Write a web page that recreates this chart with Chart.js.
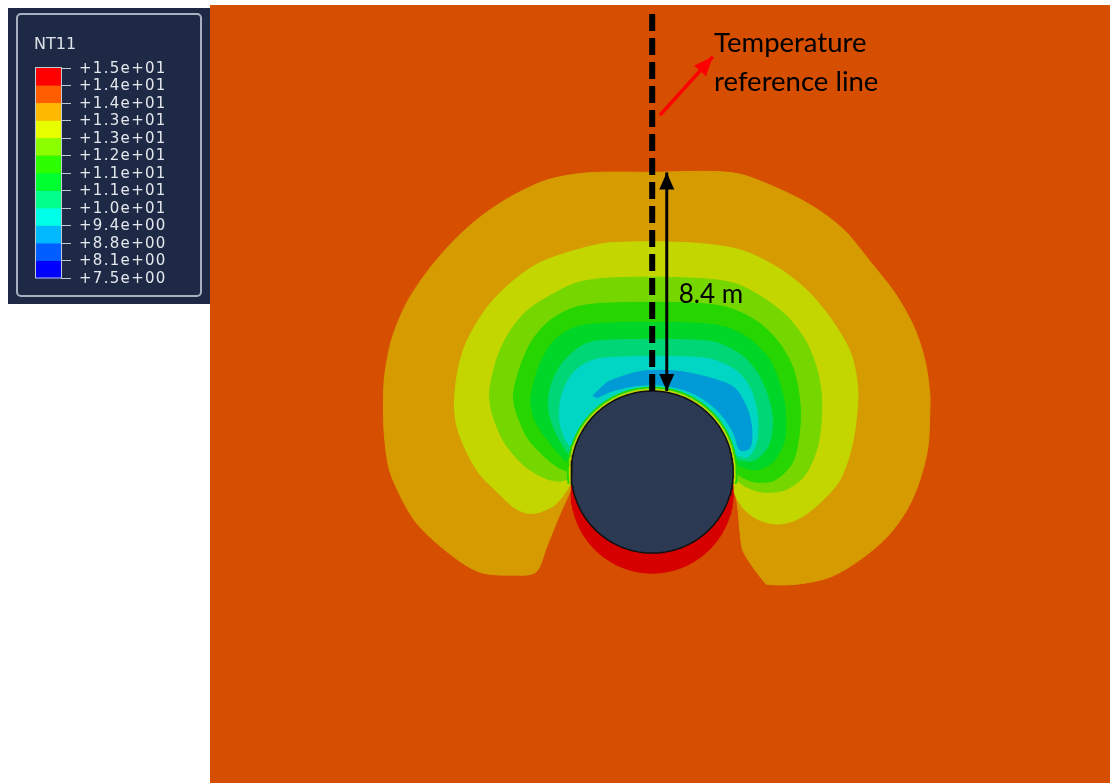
<!DOCTYPE html>
<html>
<head>
<meta charset="utf-8">
<title>NT11 temperature field around the tunnel</title>
<script src="https://cdn.jsdelivr.net/npm/chart.js@4.4.1/dist/chart.umd.min.js"></script>
<style>
  html, body { margin: 0; padding: 0; background: #ffffff; }
  canvas { display: block; }
</style>
</head>
<body>
<canvas id="field" width="1110" height="783"></canvas>
<script>
// ---- NT11 contour levels and legend (bottom to top) ----
const levels = [7.5, 8.125, 8.75, 9.375, 10.0, 10.625, 11.25, 11.875, 12.5, 13.125, 13.75, 14.375, 15.0];
const levelLabels = ['+7.5e+00', '+8.1e+00', '+8.8e+00', '+9.4e+00', '+1.0e+01', '+1.1e+01',
                     '+1.1e+01', '+1.2e+01', '+1.3e+01', '+1.3e+01', '+1.4e+01', '+1.4e+01', '+1.5e+01'];
const palette = ['#0000FF', '#005DFF', '#00B9FF', '#00FFE8', '#00FF8B', '#00FF2E',
                 '#2EFF00', '#8BFF00', '#E8FF00', '#FFB900', '#FF5D00', '#FF0000'];

// ---- Contour band outlines, metres from the tunnel centre [x, y] ----
// 13.125 - 13.75
const band13_1 = [[-3.06,-0.38],[-3.17,-0.77],[-3.56,-1.65],[-4.06,-2.88],[-4.48,-3.85],[-5.48,-3.96],[-6.52,-3.88],
  [-7.29,-3.50],[-8.29,-2.73],[-9.06,-1.96],[-9.60,-1.08],[-10.10,0.08],[-10.29,1.35],[-10.33,2.38],[-10.29,3.65],
  [-10.02,5.08],[-9.44,6.50],[-8.60,7.77],[-7.60,8.92],[-6.60,9.81],[-5.44,10.58],[-4.02,11.23],[-2.48,11.50],
  [-0.10,11.52],[3.10,11.50],[4.79,10.92],[6.21,10.19],[7.37,9.31],[8.33,8.15],[9.33,6.88],[10.06,5.58],[10.48,4.31],
  [10.67,3.04],[10.67,2.27],[10.60,0.96],[10.29,-0.31],[9.79,-1.46],[9.02,-2.50],[7.98,-3.38],[6.83,-4.04],
  [5.56,-4.31],[4.40,-4.31],[4.25,-4.15],[3.87,-3.65],[3.48,-3.00],[3.37,-2.23],[3.29,-1.35],[3.17,-0.69],[3.06,-0.38]];
// 12.5 - 13.125
const band12_5 = [[-3.06,-0.31],[-3.33,-0.77],[-3.75,-1.27],[-4.33,-1.54],[-4.79,-1.58],[-5.29,-1.38],[-5.87,-0.85],
  [-6.63,-0.08],[-7.17,0.85],[-7.52,1.81],[-7.60,2.77],[-7.44,4.04],[-7.10,5.08],[-6.33,6.35],[-5.44,7.27],
  [-4.33,8.04],[-2.90,8.54],[-1.63,8.81],[1.44,8.81],[3.37,8.54],[4.79,7.88],[5.94,7.00],[6.90,5.85],[7.63,4.58],
  [7.90,3.27],[7.87,2.27],[7.67,0.96],[7.21,-0.31],[6.44,-1.19],[5.67,-1.77],[4.90,-2.00],[4.13,-1.85],
  [3.56,-1.46],[3.25,-1.00],[3.06,-0.50]];
// 11.875 - 12.5
const band11_9 = [[-3.10,-0.23],[-3.56,-0.35],[-4.13,-0.23],[-4.90,0.23],[-5.67,1.12],[-6.13,2.19],[-6.25,3.04],
  [-6.02,4.19],[-5.60,5.19],[-4.90,6.12],[-4.02,6.73],[-2.90,7.27],[-1.63,7.46],[1.44,7.46],[3.10,7.27],
  [4.21,6.73],[5.21,5.96],[5.94,4.96],[6.37,3.81],[6.52,2.58],[6.37,1.04],[5.87,-0.12],[5.10,-0.69],
  [4.21,-0.77],[3.56,-0.54],[3.13,-0.23]];
// 11.25 - 11.875
const band11_3 = [[-3.10,0.00],[-3.56,0.15],[-4.13,0.58],[-4.79,1.31],[-5.25,2.38],[-5.33,3.04],[-5.02,4.19],
  [-4.60,5.08],[-3.90,5.85],[-2.90,6.35],[-1.56,6.50],[1.44,6.50],[2.79,6.35],[3.94,5.85],[4.79,5.08],
  [5.40,4.04],[5.67,2.77],[5.67,1.62],[5.40,0.38],[4.71,-0.31],[3.94,-0.38],[3.44,-0.19],[3.13,0.04]];
// 10.625 - 11.25
const band10_6 = [[-3.10,0.23],[-3.44,0.54],[-4.02,1.23],[-4.52,2.00],[-4.67,2.77],[-4.52,3.54],[-4.25,4.31],
  [-3.75,5.08],[-2.90,5.58],[-1.56,5.73],[1.44,5.73],[2.79,5.58],[3.79,5.08],[4.52,4.31],[4.94,3.27],
  [5.13,2.27],[5.06,1.12],[4.60,0.35],[3.94,0.08],[3.37,0.23],[3.13,0.38]];
// 10.0 - 10.625
const band10_0 = [[-3.06,0.46],[-3.37,0.92],[-3.75,1.62],[-3.98,2.38],[-3.94,3.15],[-3.63,3.92],[-3.17,4.50],
  [-2.48,4.96],[-1.44,5.08],[1.44,5.08],[2.52,4.96],[3.52,4.42],[4.13,3.65],[4.52,2.65],[4.63,1.81],
  [4.44,0.96],[3.94,0.46],[3.37,0.46],[3.13,0.65]];
// 9.375 - 10.0
const band9_4 = [[-2.98,0.77],[-3.33,1.23],[-3.56,2.00],[-3.52,2.77],[-3.33,3.35],[-2.94,3.92],[-2.25,4.31],
  [-1.25,4.42],[1.44,4.42],[2.37,4.31],[3.29,3.85],[3.83,3.08],[4.06,2.00],[3.98,1.04],[3.67,0.58],[3.25,0.65]];
// 8.75 - 9.375
const band8_8 = [[-2.29,2.92],[-2.02,3.19],[-1.63,3.50],[-0.37,3.88],[0.94,3.88],[2.21,3.62],[3.17,3.23],
  [3.67,2.38],[3.83,1.62],[3.75,0.92],[3.37,0.85],[3.13,1.50],[2.67,2.19],[2.02,2.77],[1.25,3.15],
  [0.29,3.35],[-0.67,3.31],[-1.52,3.12],[-2.13,2.85]];

// Band lower bounds, drawn from the outermost band inwards
const bandLevels = [13.125, 12.5, 11.875, 11.25, 10.625, 10.0, 9.375, 8.75];
const bandOutlines = [band13_1, band12_5, band11_9, band11_3, band10_6, band10_0, band9_4, band8_8];
const fieldLevel = 13.75;          // far-field band
const floorLevel = 14.375;         // warm zone under the invert

// ---- Tunnel and reference line (metres) ----
const tunnelRadius = 3.115;
const tunnelCentre = [0, 0];
const warmZoneCentre = [0, -0.77];
const crownDistance = 8.4;          // crown to edge of the 13.125 band
const referenceLineTop = 17.6;

// ---- Layout of the drawing ----
const X_MIN = -17.0, X_MAX = 17.6, Y_MIN = -11.95, Y_MAX = 17.95;
const SHADE = 0.84;

function shade(hex, k) {
  const n = parseInt(hex.slice(1), 16);
  const r = Math.round(((n >> 16) & 255) * k);
  const g = Math.round(((n >> 8) & 255) * k);
  const b = Math.round((n & 255) * k);
  return `rgb(${r},${g},${b})`;
}
function levelColor(v) {
  return shade(palette[levels.indexOf(v)], SHADE);
}
function toPoints(arr) { return arr.map(([x, y]) => ({x, y})); }
function circle(c, r, a0 = 0, a1 = 360, n = 180) {
  const pts = [];
  for (let i = 0; i <= n; i++) {
    const a = (a0 + (a1 - a0) * i / n) * Math.PI / 180;
    pts.push({x: c[0] + r * Math.cos(a), y: c[1] + r * Math.sin(a)});
  }
  return pts;
}

const layers = [];
function area(points, color, extra) {
  layers.push(Object.assign({
    data: points, showLine: true, fill: 'shape',
    backgroundColor: color, borderColor: color, borderWidth: 1,
    pointRadius: 0, pointHoverRadius: 0
  }, extra || {}));
}
function path(points, color, width, extra) {
  layers.push(Object.assign({
    data: points, showLine: true, fill: false,
    borderColor: color, borderWidth: width, backgroundColor: color,
    pointRadius: 0, pointHoverRadius: 0
  }, extra || {}));
}

// contour bands (smoothed outlines)
bandOutlines.forEach((outline, i) =>
  area(toPoints(outline), levelColor(bandLevels[i]), {tension: 0.3}));
// warm zone under the invert
area(circle(warmZoneCentre, tunnelRadius), levelColor(floorLevel));
// thin wall layer around the upper lining
path(circle(tunnelCentre, tunnelRadius + 0.13, -8, 188, 90), levelColor(11.25), 2);
path(circle(tunnelCentre, tunnelRadius + 0.05, -8, 188, 90), levelColor(12.5), 2.2);
// tunnel
area(circle(tunnelCentre, tunnelRadius), '#2B3A52', {borderColor: '#101010', borderWidth: 1.5});
// temperature reference line
path([{x: 0, y: referenceLineTop}, {x: 0, y: tunnelRadius}], '#000000', 6,
     {borderDash: [17, 7], borderCapStyle: 'butt'});
// crown distance dimension
const dimIndex = layers.length;
path([{x: 0.56, y: tunnelRadius}, {x: 0.56, y: tunnelRadius + crownDistance}], '#000000', 3);
// pointer to the reference line
const pointerIndex = layers.length;
path([{x: 0.3, y: 13.72}, {x: 2.33, y: 15.96}], '#FF0000', 3.5);

layers.forEach((d, i) => { d.order = layers.length - i; });

// ---- plugins ----
const fieldBackground = {
  id: 'fieldBackground',
  beforeDatasetsDraw(chart) {
    const {ctx, chartArea: a} = chart;
    ctx.save();
    ctx.fillStyle = levelColor(fieldLevel);
    ctx.fillRect(a.left, a.top, a.right - a.left, a.bottom - a.top);
    ctx.restore();
  }
};

function head(ctx, tip, from, len, half, color) {
  const dx = tip.x - from.x, dy = tip.y - from.y;
  const d = Math.hypot(dx, dy), ux = dx / d, uy = dy / d;
  const bx = tip.x - ux * len, by = tip.y - uy * len;
  ctx.beginPath();
  ctx.moveTo(tip.x, tip.y);
  ctx.lineTo(bx - uy * half, by + ux * half);
  ctx.lineTo(bx + uy * half, by - ux * half);
  ctx.closePath();
  ctx.fillStyle = color;
  ctx.fill();
}
const arrowHeads = {
  id: 'arrowHeads',
  afterDatasetsDraw(chart) {
    const ctx = chart.ctx;
    const dim = chart.getDatasetMeta(dimIndex).data;
    const ptr = chart.getDatasetMeta(pointerIndex).data;
    ctx.save();
    head(ctx, dim[0], dim[1], 17, 7.5, '#000000');
    head(ctx, dim[1], dim[0], 17, 7.5, '#000000');
    head(ctx, ptr[1], ptr[0], 19, 8, '#FF0000');
    ctx.restore();
  }
};

const annotations = {
  id: 'annotations',
  afterDatasetsDraw(chart) {
    const {ctx, scales: {x, y}} = chart;
    const dim = chart.getDatasetMeta(dimIndex).data;
    ctx.save();
    ctx.fillStyle = '#000000';
    ctx.font = '27.5px Lato, "Open Sans", sans-serif';
    ctx.textAlign = 'left';
    ctx.textBaseline = 'alphabetic';
    ctx.fillText('Temperature', x.getPixelForValue(2.38), y.getPixelForValue(16.14));
    ctx.fillText('reference line', x.getPixelForValue(2.38), y.getPixelForValue(14.65));
    ctx.font = '26px Lato, "Open Sans", sans-serif';
    const span = crownDistance.toFixed(1) + ' m';
    ctx.fillText(span, dim[0].x + 12, (dim[0].y + dim[1].y) / 2 + 21);
    ctx.restore();
  }
};

const colourBar = {
  id: 'colourBar',
  afterDraw(chart) {
    const ctx = chart.ctx;
    ctx.save();
    ctx.fillStyle = '#1E2A45';
    ctx.fillRect(8, 8, 202, 296);
    ctx.strokeStyle = '#A9B1C1';
    ctx.lineWidth = 2;
    ctx.beginPath();
    ctx.roundRect(17, 14, 184, 282, 4);
    ctx.stroke();

    ctx.fillStyle = '#DDE1E8';
    ctx.font = '16px "DejaVu Sans", sans-serif';
    ctx.textBaseline = 'middle';
    ctx.textAlign = 'left';
    ctx.fillText('NT11', 34, 45);

    const left = 36, w = 25, top = 67.5, bottom = 278;
    const n = palette.length, h = (bottom - top) / n;
    palette.forEach((c, i) => {
      ctx.fillStyle = c;
      ctx.fillRect(left, bottom - (i + 1) * h, w, h + 0.5);
    });
    ctx.strokeStyle = '#C3C8D2';
    ctx.lineWidth = 1;
    ctx.strokeRect(left - 0.5, top, w + 1, bottom - top);

    ctx.font = '15px "DejaVu Sans", sans-serif';
    try { ctx.letterSpacing = '1.3px'; } catch (e) {}
    ctx.fillStyle = '#E4E7ED';
    levels.forEach((v, j) => {
      const ty = Math.round(bottom - j * h) + 0.5;
      ctx.beginPath();
      ctx.moveTo(left + w, ty);
      ctx.lineTo(left + w + 10, ty);
      ctx.stroke();
      ctx.fillText(levelLabels[j], 79, ty + 0.5);
    });
    ctx.restore();
  }
};

function draw() {
  new Chart(document.getElementById('field'), {
    type: 'scatter',
    data: {datasets: layers},
    options: {
      responsive: false,
      animation: false,
      devicePixelRatio: 1,
      events: [],
      layout: {padding: {left: 210, top: 5, right: 0, bottom: 0}},
      scales: {
        x: {type: 'linear', min: X_MIN, max: X_MAX, display: false},
        y: {type: 'linear', min: Y_MIN, max: Y_MAX, display: false}
      },
      elements: {line: {tension: 0}, point: {radius: 0}},
      plugins: {legend: {display: false}, tooltip: {enabled: false}}
    },
    plugins: [fieldBackground, arrowHeads, annotations, colourBar]
  });
}
if (document.fonts && document.fonts.load) {
  Promise.all([document.fonts.load('26px Lato'), document.fonts.load('14px "DejaVu Sans"')])
    .then(draw, draw);
} else {
  draw();
}
</script>
</body>
</html>
